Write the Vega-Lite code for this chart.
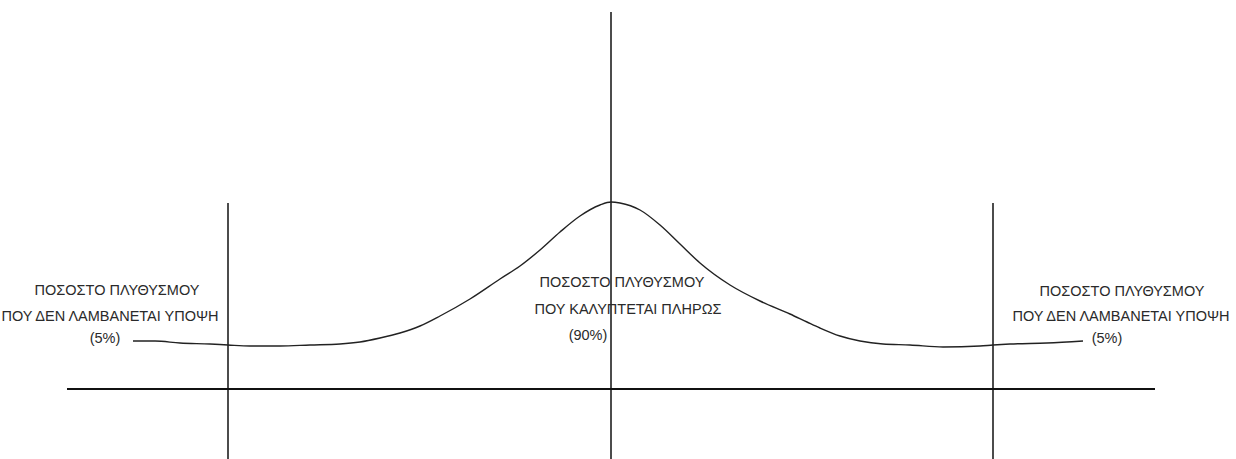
{
  "$schema": "https://vega.github.io/schema/vega-lite/v6.json",
  "width": 1236,
  "height": 459,
  "autosize": {"type": "none"},
  "padding": 0,
  "background": "white",
  "config": {"view": {"stroke": null}},
  "datasets": {
    "curve": [
      {"x": 133, "y": 48}, {"x": 155, "y": 48}, {"x": 180, "y": 46}, {"x": 210, "y": 45},
      {"x": 228, "y": 44}, {"x": 250, "y": 43}, {"x": 280, "y": 43}, {"x": 310, "y": 44},
      {"x": 340, "y": 45}, {"x": 360, "y": 47}, {"x": 380, "y": 51}, {"x": 400, "y": 56},
      {"x": 420, "y": 63}, {"x": 440, "y": 73}, {"x": 470, "y": 90}, {"x": 500, "y": 110},
      {"x": 520, "y": 123}, {"x": 540, "y": 139}, {"x": 560, "y": 157}, {"x": 580, "y": 173},
      {"x": 600, "y": 184}, {"x": 611, "y": 187}, {"x": 620, "y": 186}, {"x": 640, "y": 179},
      {"x": 660, "y": 164}, {"x": 680, "y": 145}, {"x": 700, "y": 126}, {"x": 730, "y": 104},
      {"x": 760, "y": 88}, {"x": 790, "y": 75}, {"x": 807, "y": 67}, {"x": 820, "y": 61},
      {"x": 840, "y": 53}, {"x": 860, "y": 48}, {"x": 883, "y": 45}, {"x": 910, "y": 44},
      {"x": 943, "y": 42}, {"x": 980, "y": 43}, {"x": 993, "y": 44}, {"x": 1010, "y": 45},
      {"x": 1047, "y": 46}, {"x": 1083, "y": 48}
    ],
    "verticals": [
      {"x": 611, "top": 377, "bottom": -70},
      {"x": 228, "top": 186, "bottom": -70},
      {"x": 993, "top": 186, "bottom": -70}
    ],
    "baseline": [
      {"x1": 67, "x2": 1155, "y": 0}
    ],
    "labels": [
      {"label": "ΠΟΣΟΣΤΟ ΠΛΥΘΥΣΜΟΥ", "x": 117, "y": 98},
      {"label": "ΠΟΥ ΔΕΝ ΛΑΜΒΑΝΕΤΑΙ ΥΠΟΨΗ", "x": 110, "y": 72},
      {"label": "(5%)", "x": 105, "y": 50},
      {"label": "ΠΟΣΟΣΤΟ ΠΛΥΘΥΣΜΟΥ", "x": 622, "y": 106},
      {"label": "ΠΟΥ ΚΑΛΥΠΤΕΤΑΙ ΠΛΗΡΩΣ", "x": 628, "y": 79},
      {"label": "(90%)", "x": 588, "y": 53},
      {"label": "ΠΟΣΟΣΤΟ ΠΛΥΘΥΣΜΟΥ", "x": 1122, "y": 97},
      {"label": "ΠΟΥ ΔΕΝ ΛΑΜΒΑΝΕΤΑΙ ΥΠΟΨΗ", "x": 1121, "y": 72},
      {"label": "(5%)", "x": 1107, "y": 50}
    ]
  },
  "layer": [
    {
      "data": {"name": "baseline"},
      "mark": {"type": "rule", "color": "#111", "strokeWidth": 2},
      "encoding": {
        "x": {"field": "x1", "type": "quantitative", "scale": {"domain": [0, 1236], "nice": false, "zero": false}, "axis": null},
        "x2": {"field": "x2"},
        "y": {"field": "y", "type": "quantitative", "scale": {"domain": [-70, 389], "nice": false, "zero": false}, "axis": null}
      }
    },
    {
      "data": {"name": "verticals"},
      "mark": {"type": "rule", "color": "#111", "strokeWidth": 1.5},
      "encoding": {
        "x": {"field": "x", "type": "quantitative", "scale": {"domain": [0, 1236], "nice": false, "zero": false}, "axis": null},
        "y": {"field": "top", "type": "quantitative", "scale": {"domain": [-70, 389], "nice": false, "zero": false}, "axis": null},
        "y2": {"field": "bottom"}
      }
    },
    {
      "data": {"name": "curve"},
      "mark": {"type": "line", "color": "#222", "strokeWidth": 1.4, "interpolate": "monotone"},
      "encoding": {
        "x": {"field": "x", "type": "quantitative", "scale": {"domain": [0, 1236], "nice": false, "zero": false}, "axis": null},
        "y": {"field": "y", "type": "quantitative", "scale": {"domain": [-70, 389], "nice": false, "zero": false}, "axis": null},
        "order": {"field": "x", "type": "quantitative"}
      }
    },
    {
      "data": {"name": "labels"},
      "mark": {"type": "text", "align": "center", "baseline": "middle", "font": "Liberation Sans Narrow, Arial Narrow, Liberation Sans, Arial", "fontSize": 14.5, "color": "#2a2a2a"},
      "encoding": {
        "x": {"field": "x", "type": "quantitative", "scale": {"domain": [0, 1236], "nice": false, "zero": false}, "axis": null},
        "y": {"field": "y", "type": "quantitative", "scale": {"domain": [-70, 389], "nice": false, "zero": false}, "axis": null},
        "text": {"field": "label", "type": "nominal"}
      }
    }
  ]
}
